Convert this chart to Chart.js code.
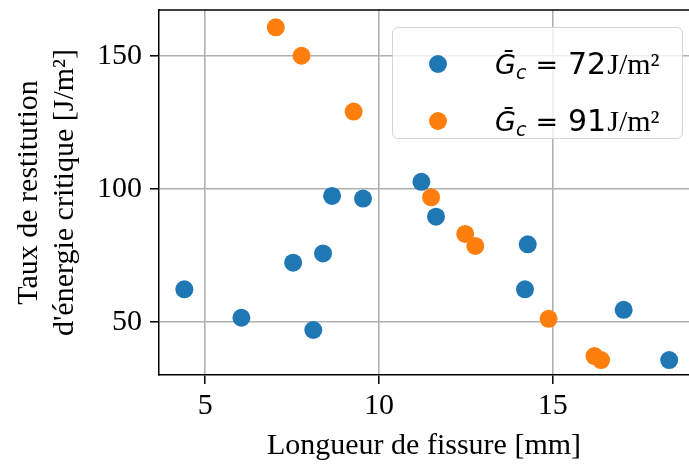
<!DOCTYPE html>
<html>
<head>
<meta charset="utf-8">
<script src="https://cdn.jsdelivr.net/npm/chart.js@4/dist/chart.umd.min.js"></script>
<style>
  html, body { margin: 0; padding: 0; background: #fff; overflow: hidden; }
  #wrap { position: relative; width: 689px; height: 468px; }
  #chart { display: block; }
  #legend {
    position: absolute; left: 392px; top: 27px; width: 291px; height: 112px;
    box-sizing: border-box; border: 1.5px solid #d5d5d5; border-radius: 6px;
    background: rgba(255,255,255,0.8);
  }
  .row { position: absolute; left: 0; height: 40px; width: 100%; }
  .dot { position: absolute; left: 36px; top: 11px; width: 18px; height: 18px; border-radius: 50%; }
  .lab { position: absolute; left: 102px; top: 0; height: 40px; line-height: 40px; white-space: nowrap; color: #000; }
  .m { font-family: "DejaVu Sans"; font-size: 27px; }
  .g { font-style: italic; }
  .m sub { font-size: 19px; font-style: italic; vertical-align: -5px; line-height: 0; }
  .eq { display: inline-block; margin: 0 10px 0 9px; }
  .num { font-size: 30px; }
  .u { font-family: "Liberation Serif"; font-size: 30px; margin-left: 1px; }
</style>
</head>
<body>
<div id="wrap">
  <canvas id="chart"></canvas>
  <div id="legend"></div>
</div>
<script>
// values
const xTicks = [5, 10, 15];
const yTicks = [50, 100, 150];

const series = ['72', '91'];
const crack72 = [4.40, 6.04, 7.53, 8.11, 8.39, 8.65, 9.54, 11.22, 11.64, 14.28, 14.20, 17.04, 18.35];
const rate72  = [62.3, 51.6, 72.3, 47.0, 75.8, 97.4, 96.4, 102.7, 89.6, 79.2, 62.3, 54.6, 35.7];
const crack91 = [7.03, 7.77, 9.27, 11.50, 12.48, 12.77, 14.88, 16.20, 16.39];
const rate91  = [160.8, 150.1, 129.1, 96.9, 83.1, 78.6, 51.2, 37.2, 35.7];

const colors = ['#1f77b4', '#ff7f0e'];

const toPoints = (xs, ys) => xs.map((x, i) => ({ x: x, y: ys[i] }));

// top spine (matplotlib frame)
const frame = {
  id: 'frame',
  afterDraw(c) {
    const a = c.chartArea, ctx = c.ctx;
    ctx.save();
    ctx.strokeStyle = '#000';
    ctx.lineWidth = 1.5;
    ctx.beginPath();
    ctx.moveTo(a.left, a.top);
    ctx.lineTo(a.right, a.top);
    ctx.stroke();
    ctx.restore();
  }
};

// no extra room for edge labels, the plot box is fixed
const noPad = s => { s.paddingTop = 0; s.paddingBottom = 0; s.paddingLeft = 0; s.paddingRight = 0; };

const axisCommon = {
  type: 'linear',
  grid: { color: '#b0b0b0', lineWidth: 1.6, tickColor: '#000', tickLength: 9, tickWidth: 1.5 },
  border: { display: true, color: '#000', width: 1.5 },
  ticks: { color: '#000', font: { family: 'Liberation Serif', size: 30 } }
};

new Chart(document.getElementById('chart'), {
  type: 'scatter',
  data: {
    datasets: [
      { label: series[0], data: toPoints(crack72, rate72), backgroundColor: colors[0], borderWidth: 0, pointRadius: 9, pointHoverRadius: 9, order: 2 },
      { label: series[1], data: toPoints(crack91, rate91), backgroundColor: colors[1], borderWidth: 0, pointRadius: 9, pointHoverRadius: 9, order: 1 }
    ]
  },
  options: {
    responsive: true,
    maintainAspectRatio: false,
    animation: false,
    layout: { autoPadding: false, padding: { top: 10, right: 0, left: 0, bottom: 0 } },
    plugins: { legend: { display: false }, tooltip: { enabled: false } },
    scales: {
      x: {
        ...axisCommon,
        min: 3.67, max: 18.92,
        afterBuildTicks: s => { s.ticks = xTicks.map(v => ({ value: v })); },
        afterFit: s => { s.height = 93; noPad(s); },
        ticks: { ...axisCommon.ticks, padding: 4 },
        title: { display: true, text: 'Longueur de fissure [mm]', color: '#000',
                 font: { family: 'Liberation Serif', size: 30, lineHeight: 1.2 }, padding: { top: 0, bottom: 4 } }
      },
      y: {
        ...axisCommon,
        min: 30.08, max: 167.3,
        afterBuildTicks: s => { s.ticks = yTicks.map(v => ({ value: v })); },
        afterFit: s => { s.width = 159; noPad(s); },
        ticks: { ...axisCommon.ticks, padding: 8 },
        title: { display: true, text: ['Taux de restitution', "d'énergie critique [J/m²]"], color: '#000',
                 font: { family: 'Liberation Serif', size: 30, lineHeight: 1.17 }, padding: { top: 12, bottom: 0 } }
      }
    }
  },
  plugins: [frame]
});

// legend with the math label
const legend = document.getElementById('legend');
series.forEach((v, i) => {
  const row = document.createElement('div');
  row.className = 'row';
  row.style.top = (16 + i * 57) + 'px';
  row.innerHTML = '<div class="dot" style="background:' + colors[i] + '"></div>' +
    '<div class="lab"><span class="m"><span class="g">Ḡ</span><sub>c</sub><span class="eq">=</span>' +
    '<span class="num">' + v + '</span></span><span class="u">J/m²</span></div>';
  legend.appendChild(row);
});
</script>
</body>
</html>
